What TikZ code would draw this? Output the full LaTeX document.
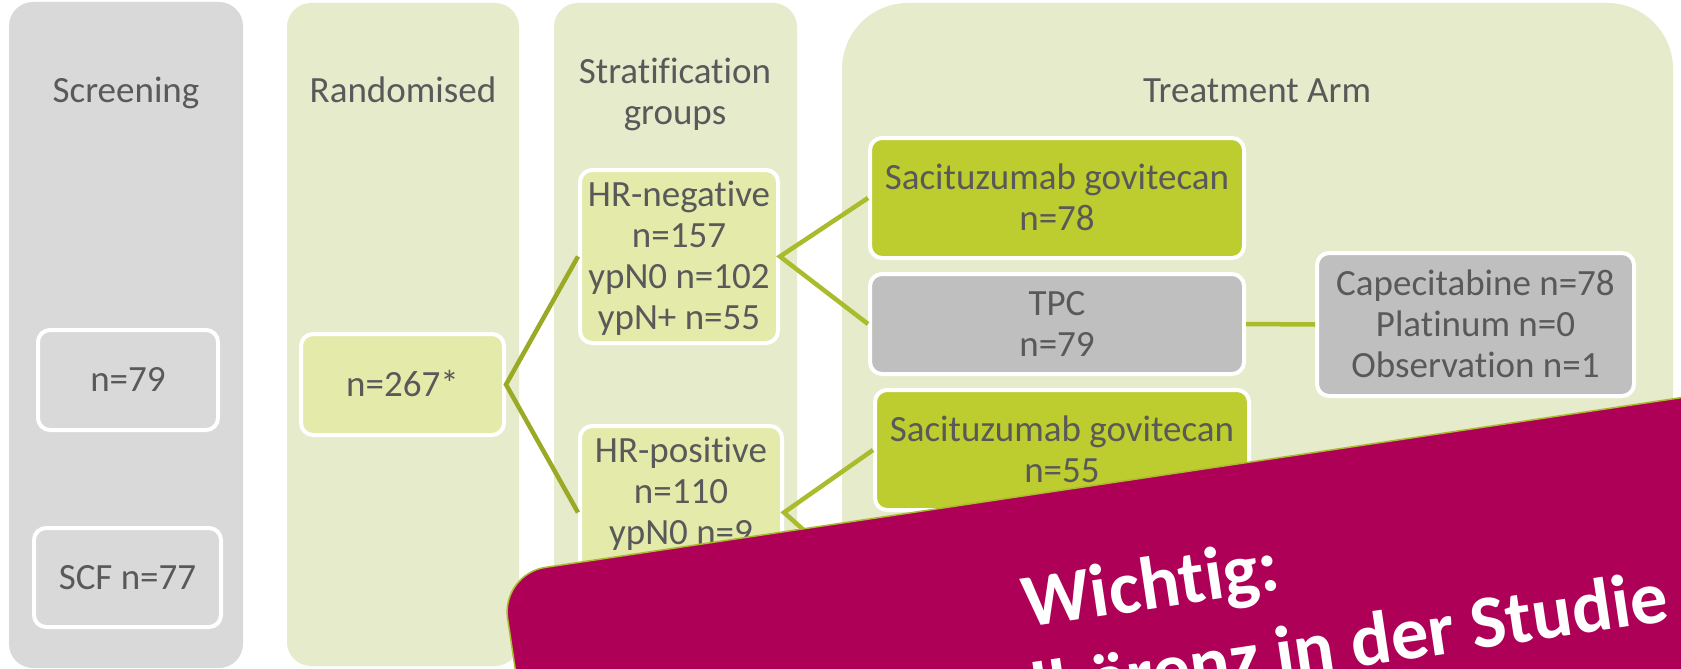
\documentclass[tikz,border=0pt]{standalone}
\usepackage{fontspec}
\setmainfont{Carlito}[Ligatures=NoCommon]
\definecolor{txt}{HTML}{595959}
\definecolor{panelgray}{HTML}{D9D9D9}
\definecolor{panelgreen}{HTML}{E6EBCC}
\definecolor{boxlight}{HTML}{E4EBAA}
\definecolor{boxgreen}{HTML}{BDCC2E}
\definecolor{boxgray}{HTML}{BFBFBF}
\definecolor{lineA}{HTML}{9AAA24}
\definecolor{lineB}{HTML}{AABB2B}
\definecolor{wichtigbg}{HTML}{AF0058}
\newcommand\st{\rule[-0.16em]{0pt}{0.96em}}
\tikzset{
  panelshape/.style={rounded corners=24pt},
  box/.style={draw=white, line width=4pt, rounded corners=12pt, inner sep=0pt,
    align=center, text=txt, font=\fontsize{37}{41}\selectfont},
  lbl/.style={inner sep=0pt, align=center, text=txt, font=\fontsize{37}{41}\selectfont},
  link/.style={line width=4.5pt, line join=miter},
  wtxt/.style={inner sep=0pt, text=white, font=\fontsize{75}{88}\selectfont\bfseries},
}
\begin{document}
\begin{tikzpicture}[x=1pt,y=-1pt]
\useasboundingbox (0,0) rectangle (1681,669);
\fill[white] (0,0) rectangle (1681,669);
% panels
\fill[panelgray, panelshape] (9,2) rectangle (243,668);
\fill[panelgreen, panelshape] (287,3) rectangle (519,666);
\fill[panelgreen, panelshape] (554,3) rectangle (797,666);
\fill[panelgreen, rounded corners=66pt] (842,3) rectangle (1673,666);
% panel titles
\node[lbl] (tScr) at (126,91) {\st Screening};
\node[lbl] (tRand) at (403,91) {\st Randomised};
\node[lbl] (tStrat) at (675,92) {\st Stratification\\\st groups};
\node[lbl] (tTreat) at (1257,91) {\st Treatment Arm};
% boxes
\node[box, fill=panelgray, minimum width=180pt, minimum height=100pt] (n79) at (128,380) {\st n=79};
\node[box, fill=panelgray, minimum width=187pt, minimum height=99pt] (scf) at (127.5,577.5) {\st SCF n=77};
\node[box, fill=boxlight, minimum width=203pt, minimum height=101pt] (rand) at (402.5,384.5) {\st n=267*};
\node[box, fill=boxlight, minimum width=198pt, minimum height=173pt] (hrneg) at (679,256.5)
  {\st HR-negative\\\st n=157\\\st ypN0 n=102\\\st ypN+ n=55};
\node[box, fill=boxlight, minimum width=202pt, minimum height=173pt] (hrpos) at (681,512.5)
  {\st HR-positive\\\st n=110\\\st ypN0 n=9\\\st};
\node[box, fill=boxgreen, minimum width=374pt, minimum height=120pt] (sg1) at (1057,198)
  {\st Sacituzumab govitecan\\\st n=78};
\node[box, fill=boxgray, minimum width=374pt, minimum height=100pt] (tpc) at (1057,324)
  {\st TPC\\\st n=79};
\node[box, fill=boxgreen, minimum width=374pt, minimum height=120pt] (sg2) at (1062,450)
  {\st Sacituzumab govitecan\\\st n=55};
\node[box, fill=boxgray, minimum width=317pt, minimum height=143pt] (cap) at (1475.5,324.5)
  {\st Capecitabine n=78\\\st Platinum n=0\\\st Observation n=1};
\coordinate (tpc2) at (871,590);
% connectors
\draw[link, lineA] (hrneg.west) -- (rand.east) -- (hrpos.west);
\draw[link, lineB] (sg1.west) -- (hrneg.east) -- (tpc.west);
\draw[link, lineB] (sg2.west) -- (hrpos.east) -- (tpc2);
\draw[link, lineB] (tpc.east) -- (cap.west);
% overlay
\begin{scope}
\clip (0,0) rectangle (1681,669);
\begin{scope}[shift={(501,574)}, rotate=8.5, transform shape]
\draw[fill=wichtigbg, draw=lineB, line width=1.5pt, rounded corners=45pt] (0,0) rectangle (1400,500);
\node[wtxt, anchor=base] (w1) at (641,131) {Wichtig:};
\node[wtxt, anchor=base east] (w2) at (1150,219) {Adhärenz in der Studie};
\end{scope}
\end{scope}
\end{tikzpicture}
\end{document}
